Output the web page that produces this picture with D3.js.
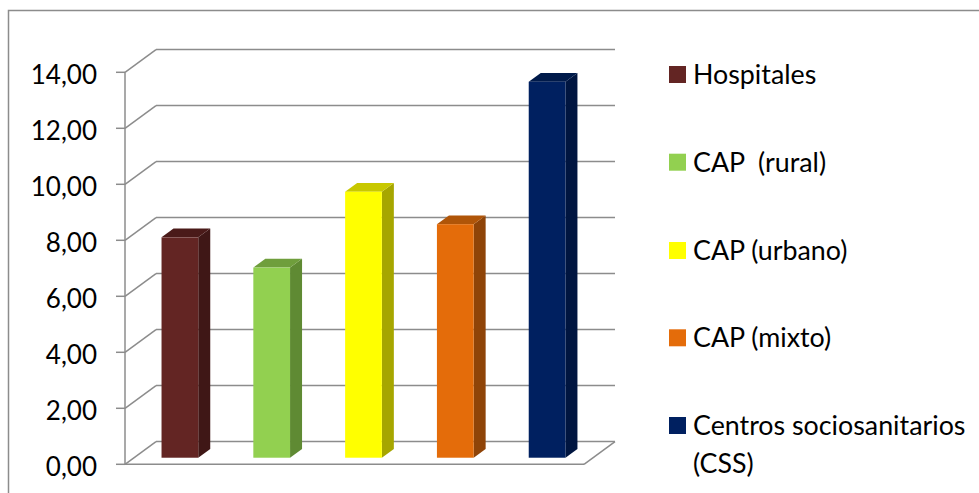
<!DOCTYPE html>
<html><head><meta charset="utf-8">
<script src="https://cdn.jsdelivr.net/npm/d3@7/dist/d3.min.js"></script>
<style>body{margin:0;background:#fff}svg{display:block}text{white-space:pre}</style>
</head><body>
<svg id="c" width="979" height="493"></svg>
<script>
const categories = ["Hospitales", "CAP  (rural)", "CAP (urbano)", "CAP (mixto)", "Centros sociosanitarios (CSS)"];
const values = [7.87, 6.79, 9.50, 8.34, 13.43];
const frontColors = ["#632523", "#92d050", "#ffff00", "#e46c0a", "#002060"];
const sideColors  = ["#3f1716", "#5f8a33", "#a6a600", "#8f4408", "#001540"];
const topColors   = ["#4a1a19", "#6f9e3c", "#c8c800", "#b05508", "#001a4a"];
const yTicks = [0, 2, 4, 6, 8, 10, 12, 14];
const tickLabels = ["0,00", "2,00", "4,00", "6,00", "8,00", "10,00", "12,00", "14,00"];
const legendLines = [["Hospitales"], ["CAP  (rural)"], ["CAP (urbano)"], ["CAP (mixto)"], ["Centros sociosanitarios", "(CSS)"]];

const svg = d3.select("#c");
const font = "Lato, 'Open Sans', 'Liberation Sans', sans-serif";
const grid = "#8c8c8c";

// outer border
svg.append("rect").attr("x", 8.5).attr("y", 10.5).attr("width", 1000).attr("height", 500)
  .attr("fill", "none").attr("stroke", "#8c8c8c").attr("stroke-width", 1.5);

const y = d3.scaleLinear().domain([0, 14]).range([464.3, 72.3]);
const x = d3.scaleBand().domain(categories).range([125, 584]);
const DX = 31, DY = -22.7; // full depth offset
const g = svg.append("g");

// gridlines & side wall diagonals
yTicks.forEach((v, i) => {
  const yy = y(v);
  g.append("line").attr("x1", 125).attr("y1", yy).attr("x2", 125 + DX).attr("y2", yy + DY)
    .attr("stroke", grid).attr("stroke-width", 1.5);
  g.append("line").attr("x1", 125 + DX).attr("y1", yy + DY).attr("x2", 584 + DX).attr("y2", yy + DY)
    .attr("stroke", grid).attr("stroke-width", 1.5);
  g.append("line").attr("x1", 116).attr("y1", yy).attr("x2", 125).attr("y2", yy)
    .attr("stroke", grid).attr("stroke-width", 1.5);
  g.append("text").attr("x", 97).attr("y", yy + 11.7).attr("text-anchor", "end")
    .attr("font-family", font).attr("font-size", 26).attr("fill", "#000").text(tickLabels[i]);
});
// front axis and floor
g.append("line").attr("x1", 125).attr("y1", y(0)).attr("x2", 125).attr("y2", y(14))
  .attr("stroke", grid).attr("stroke-width", 1.5);
g.append("line").attr("x1", 125).attr("y1", y(0)).attr("x2", 584).attr("y2", y(0))
  .attr("stroke", grid).attr("stroke-width", 1.5);
g.append("line").attr("x1", 584).attr("y1", y(0)).attr("x2", 584 + DX).attr("y2", y(0) + DY)
  .attr("stroke", grid).attr("stroke-width", 1.5);

// bars
const f0 = 0.29, fd = 0.387;
const bw = x.bandwidth() * 0.4;
categories.forEach((c, i) => {
  const cx = x(c) + x.bandwidth() / 2 + DX * f0;
  const ox = DY * f0;
  const x0 = cx - bw / 2, x1 = cx + bw / 2;
  const yb = y(0) + ox, yt = y(values[i]) + ox;
  const sx = DX * fd, sy = DY * fd;
  g.append("path").attr("d", `M${x1},${yb}L${x1 + sx},${yb + sy}L${x1 + sx},${yt + sy}L${x1},${yt}Z`)
    .attr("fill", sideColors[i]);
  g.append("path").attr("d", `M${x0},${yt}L${x0 + sx},${yt + sy}L${x1 + sx},${yt + sy}L${x1},${yt}Z`)
    .attr("fill", topColors[i]);
  g.append("rect").attr("x", x0).attr("y", yt).attr("width", bw).attr("height", yb - yt)
    .attr("fill", frontColors[i]);
});

// legend
const legendY = [84, 171.7, 260, 347.3, 435];
const lg = svg.append("g");
categories.forEach((c, i) => {
  lg.append("rect").attr("x", 669).attr("y", legendY[i] - 18).attr("width", 17).attr("height", 17)
    .attr("fill", frontColors[i]);
  const t = lg.append("text").attr("x", 693).attr("y", legendY[i])
    .attr("font-family", font).attr("font-size", 26.8).attr("fill", "#000")
    .attr("xml:space", "preserve");
  legendLines[i].forEach((ln, j) => {
    t.append("tspan").attr("x", 693).attr("y", legendY[i] + j * 37.5).text(ln);
  });
});
</script>
</body></html>
